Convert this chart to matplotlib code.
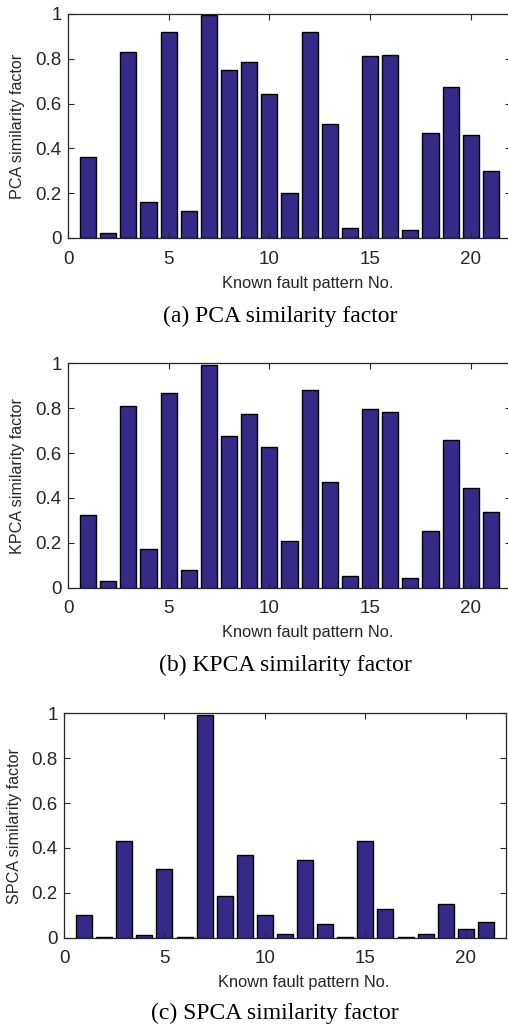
import matplotlib
matplotlib.use("Agg")
import matplotlib.pyplot as plt

patterns = list(range(1, 22))
pca_values = [0.362, 0.024, 0.832, 0.159, 0.918, 0.121, 0.997, 0.750, 0.787, 0.641,
              0.203, 0.920, 0.508, 0.043, 0.814, 0.817, 0.034, 0.469, 0.675, 0.459, 0.300]
kpca_values = [0.324, 0.030, 0.810, 0.174, 0.866, 0.080, 0.993, 0.678, 0.774, 0.626,
               0.208, 0.880, 0.470, 0.051, 0.798, 0.785, 0.043, 0.251, 0.657, 0.443, 0.336]
spca_values = [0.100, 0.002, 0.429, 0.010, 0.305, 0.004, 0.991, 0.187, 0.368, 0.100,
               0.016, 0.345, 0.061, 0.003, 0.431, 0.129, 0.001, 0.016, 0.150, 0.040, 0.070]
ylabels = ["PCA similarity factor", "KPCA similarity factor", "SPCA similarity factor"]
captions = ["(a) PCA similarity factor", "(b) KPCA similarity factor", "(c) SPCA similarity factor"]
xlabel = "Known fault pattern No."
xticks = [0, 5, 10, 15, 20]
yticks = [0, 0.2, 0.4, 0.6, 0.8, 1.0]
ytick_labels = ["0", "0.2", "0.4", "0.6", "0.8", "1"]

W, H = 508, 1029
fig = plt.figure(figsize=(W / 100, H / 100), dpi=100)

# panel geometry in pixels: left, right, top, bottom
boxes = [(68, 511, 14, 238), (68, 511, 363.3, 587.7), (64, 506, 713.3, 937.7)]
xlabel_y = [283.5, 633, 983]
caption_y = [322, 671, 1019]
caption_x = [280, 285, 275]
ylabel_x = [18, 18, 15]

bar_color = "#352A87"
ax_color = "#262626"
sans = ["Liberation Sans", "DejaVu Sans"]
serif = ["Liberation Serif", "DejaVu Serif"]

for i, vals in enumerate([pca_values, kpca_values, spca_values]):
    l, r, t, b = boxes[i]
    ax = fig.add_axes([l / W, 1 - b / H, (r - l) / W, (b - t) / H])
    ax.bar(patterns, vals, width=0.8, color=bar_color, edgecolor="black", linewidth=1.0)
    ax.set_xlim(0, 22)
    ax.set_ylim(0, 1)
    ax.set_xticks(xticks)
    ax.set_xticklabels([str(v) for v in xticks], family=sans, fontsize=13.5, color=ax_color)
    ax.set_yticks(yticks)
    ax.set_yticklabels(ytick_labels, family=sans, fontsize=13.5, color=ax_color)
    ax.tick_params(direction="in", top=True, right=True, length=4, width=0.8,
                   color=ax_color)
    ax.tick_params(axis="x", pad=9)
    ax.tick_params(axis="y", pad=4.5)
    for s in ax.spines.values():
        s.set_color(ax_color)
        s.set_linewidth(0.9)
    fig.text(ylabel_x[i] / W, 1 - ((t + b) / 2) / H, ylabels[i], rotation=90,
             ha="center", va="center", family=sans, fontsize=11.6, color=ax_color)
    fig.text((l + 239.5) / W, 1 - xlabel_y[i] / H, xlabel,
             ha="center", va="center", family=sans, fontsize=11.8, color=ax_color)
    fig.text(caption_x[i] / W, 1 - caption_y[i] / H, captions[i], ha="center", va="baseline",
             family=serif, fontsize=17, color="black")

fig.savefig("out.png", dpi=100)
